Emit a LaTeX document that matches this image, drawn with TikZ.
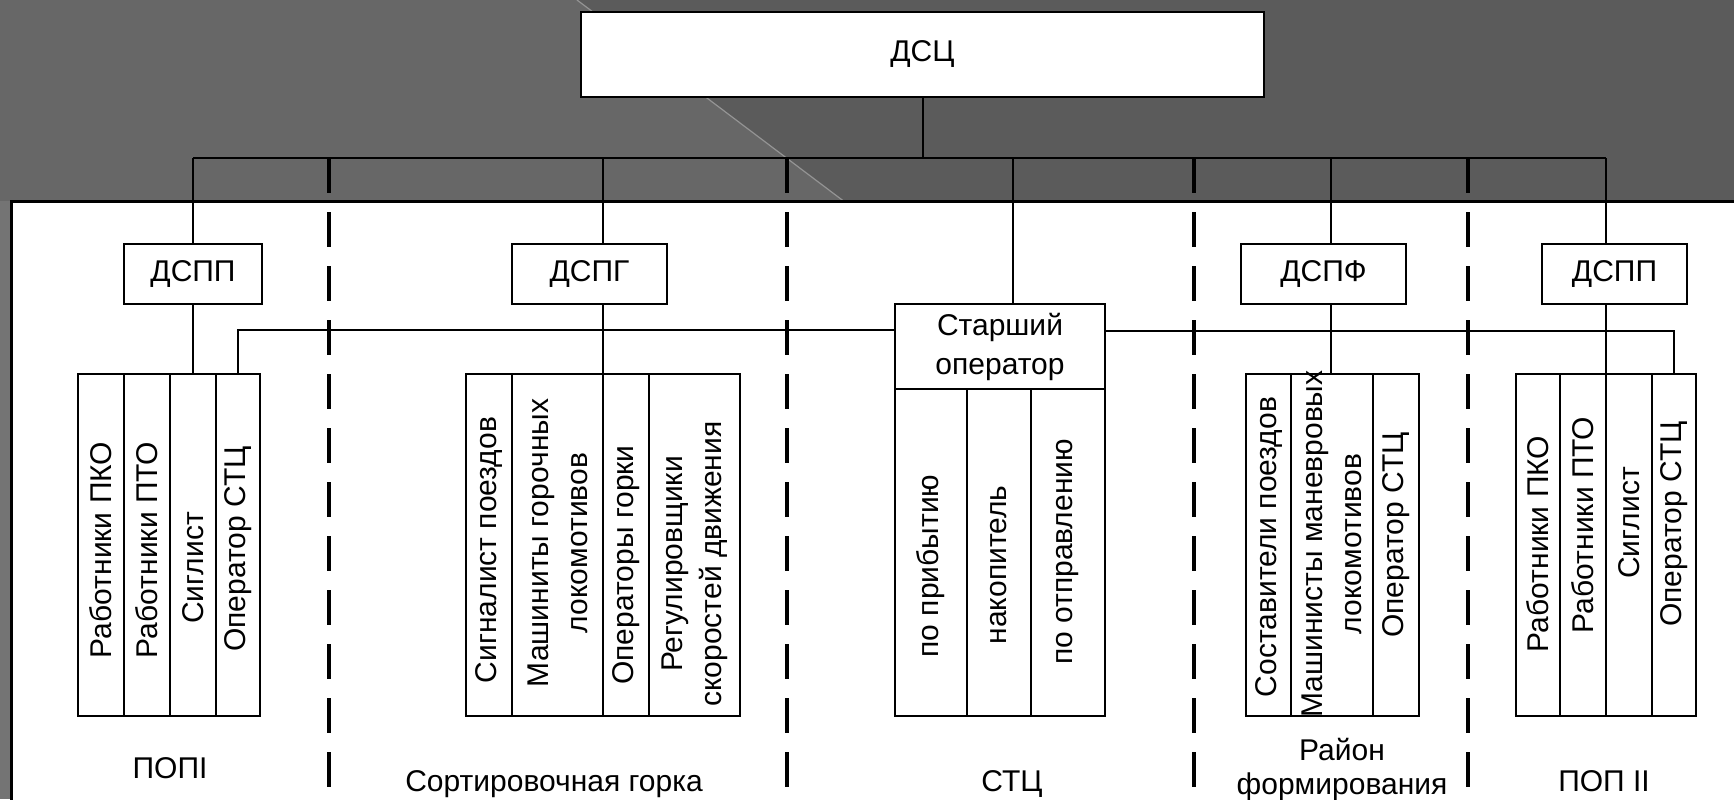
\documentclass[tikz,border=0pt]{standalone}
\usepackage{fontspec}
\setmainfont{Liberation Sans}
\definecolor{bgA}{HTML}{676767}
\definecolor{bgB}{HTML}{5B5B5B}
\definecolor{bgEdge}{HTML}{747474}
\definecolor{diag}{HTML}{949494}
\begin{document}
\begin{tikzpicture}[x=0.5pt,y=-0.5pt,
  font=\fontsize{15}{19.5}\selectfont,
  box/.style={draw, fill=white, line width=1.2pt, inner sep=0pt, outer sep=0pt, align=center},
  col/.style={draw, line width=1.2pt, inner sep=0pt, outer sep=0pt, minimum height=171pt},
  colc/.style={draw, line width=1.2pt, inner sep=0pt, outer sep=0pt, minimum height=163.5pt},
  vtext/.style={rotate=90, inner sep=0pt, align=center},
  conn/.style={line width=1pt},
  divider/.style={line width=2pt, dash pattern=on 17.5pt off 9.5pt},
  lbl/.style={anchor=base, inner sep=0pt, align=center}]
\useasboundingbox (0,0) rectangle (1734,799);
\clip (0,0) rectangle (1734,799);
% background
\fill[bgA] (0,0) rectangle (1734,799);
\fill[bgB] (577,0) -- (1734,0) -- (1734,201) -- (843.5,201) -- cycle;
\draw[diag, line width=0.6pt] (577,0) -- (843.5,201);
\fill[bgEdge] (0,201) rectangle (11,799);
% white panel
\draw[fill=white, line width=1.5pt] (11,201) rectangle (1760,830);

% dashed dividers
\foreach \xx in {329,787,1194,1468}
  \draw[divider] (\xx,158) -- (\xx,805);

% top box
\node[box, minimum width=341.5pt, minimum height=42.5pt] (dsc) at (922.5,54.5) {ДСЦ};

% level 2 boxes
\node[box, minimum width=69pt,   minimum height=30pt] (dspp1) at (193,274) {ДСПП};
\node[box, minimum width=77.5pt, minimum height=30pt] (dspg)  at (589.5,274) {ДСПГ};
\node[box, minimum width=82.5pt, minimum height=30pt] (dspf)  at (1323.5,274) {ДСПФ};
\node[box, minimum width=72.5pt, minimum height=30pt] (dspp2) at (1614.5,274) {ДСПП};
\node[box, minimum width=105pt,  minimum height=42.5pt] (so)   at (1000,346.5) {Старший\\оператор};

% columns group A (ПОП I)
\node[col, minimum width=23pt] (a1) at (101,545) {};
\node[col, minimum width=23pt] (a2) at (147,545) {};
\node[col, minimum width=23pt] (a3) at (193,545) {};
\node[col, minimum width=22pt] (a4) at (238,545) {};
% group B (горка)
\node[col, minimum width=23pt]   (b1) at (489,545) {};
\node[col, minimum width=45.5pt] (b2) at (557.5,545) {};
\node[col, minimum width=23pt]   (b3) at (626,545) {};
\node[col, minimum width=45.5pt] (b4) at (694.5,545) {};
% group C (СТЦ)
\node[colc, minimum width=36pt] (c1) at (931,552.5) {};
\node[colc, minimum width=32pt] (c2) at (999,552.5) {};
\node[colc, minimum width=37pt] (c3) at (1068,552.5) {};
% group D (формирование)
\node[col, minimum width=22.5pt] (d1) at (1268.5,545) {};
\node[col, minimum width=41pt]   (d2) at (1332,545) {};
\node[col, minimum width=23pt]   (d3) at (1396,545) {};
% group E (ПОП II)
\node[col, minimum width=22pt] (e1) at (1538,545) {};
\node[col, minimum width=23pt] (e2) at (1583,545) {};
\node[col, minimum width=23pt] (e3) at (1629,545) {};
\node[col, minimum width=22pt] (e4) at (1674,545) {};

% rotated texts
\node[vtext] (ta1) at (101,550) {Работники ПКО};
\node[vtext] (ta2) at (147,550) {Работники ПТО};
\node[vtext] (ta3) at (193,568) {Сиглист};
\node[vtext] (ta4) at (238,549) {Оператор СТЦ};

\node[vtext] (tb1) at (489,550) {Сигналист поездов};
\node[vtext] (tb2) at (557.5,543) {Машиниты горочных\\локомотивов};
\node[vtext] (tb3) at (626,565) {Операторы горки};
\node[vtext] (tb4) at (694.5,564) {Регулировщики\\скоростей движения};

\node[vtext] (tc1) at (931,566) {по прибытию};
\node[vtext] (tc2) at (999,565) {накопитель};
\node[vtext] (tc3) at (1068,552) {по отправлению};

\node[vtext] (td1) at (1268.5,547) {Составители поездов};
\node[vtext] (td2) at (1332,544) {Машинисты маневровых\\локомотивов};
\node[vtext] (td3) at (1396,535) {Оператор СТЦ};

\node[vtext] (te1) at (1538,544) {Работники ПКО};
\node[vtext] (te2) at (1583,525) {Работники ПТО};
\node[vtext] (te3) at (1629,523) {Сиглист};
\node[vtext] (te4) at (1674,524) {Оператор СТЦ};

% bottom labels
\node[lbl] (l1)  at (170,778)  {ПОПI};
\node[lbl] (l2)  at (554,791)  {Сортировочная горка};
\node[lbl] (l3)  at (1012,791) {СТЦ};
\node[lbl] (l4a) at (1342,760) {Район};
\node[lbl] (l4b) at (1342,794) {формирования};
\node[lbl] (l5)  at (1604,791) {ПОП II};

% connectors
\coordinate (bL) at (193,158);
\coordinate (bR) at (1606,158);
\coordinate (bG) at (603,158);
\coordinate (bS) at (1013,158);
\coordinate (bF) at (1331,158);
\coordinate (soL) at (895,330);
\coordinate (soR) at (1105,331);

\draw[conn] (dsc.south) -- (dsc.south |- bL);
\draw[conn] (bL) -- (bR);
\draw[conn] (bL) -- (dspp1.north);
\draw[conn] (dspp1.south) -- (a3.north);
\draw[conn] (bG) -- (bG |- dspg.north);
\draw[conn] (bG |- dspg.south) -- (bG |- b3.north);
\draw[conn] (bS) -- (bS |- so.north);
\draw[conn] (bF) -- (bF |- dspf.north);
\draw[conn] (bF |- dspf.south) -- (bF |- d2.north);
\draw[conn] (bR) -- (bR |- dspp2.north);
\draw[conn] (bR |- dspp2.south) -- (bR |- e3.north);
\draw[conn] (a4.north) |- (soL);
\draw[conn] (soR) -| (e4.north);
\end{tikzpicture}
\end{document}
